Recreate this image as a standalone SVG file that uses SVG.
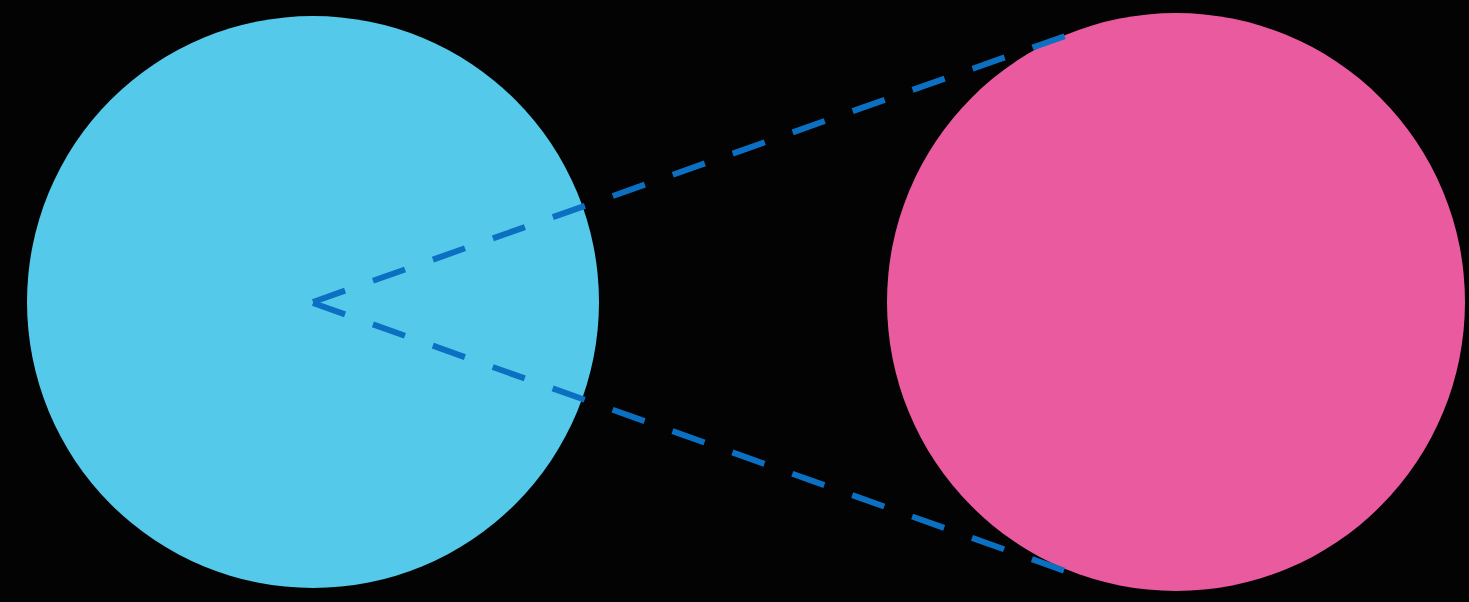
<svg xmlns="http://www.w3.org/2000/svg" width="1469" height="602" viewBox="0 0 1469 602">
<style>
.conn{fill:none;stroke:#0b70c2;stroke-width:6;stroke-dasharray:34 29.6;stroke-linejoin:miter}
</style>
<rect width="1469" height="602" fill="#030303"/>
<g id="circle-left"><circle cx="313" cy="302" r="286" fill="#54c9ea"/></g>
<g id="circle-right"><circle cx="1176" cy="302" r="289" fill="#e95a9f"/></g>
<g id="connectors">
<path class="conn" d="M313 302 L1068 35"/>
<path class="conn" d="M313 303 L1068 572"/>
</g>
</svg>
